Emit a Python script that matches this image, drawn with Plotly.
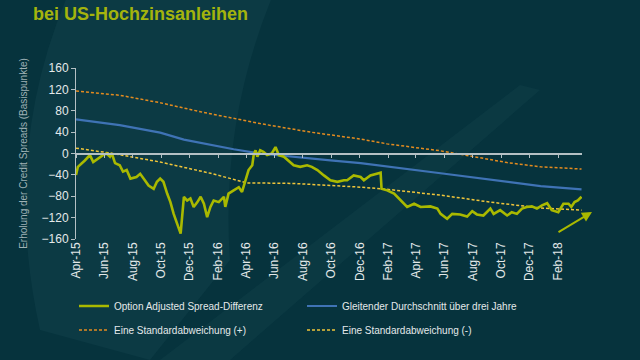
import plotly.graph_objects as go

# ---------------- data ----------------
oas_dates = [
    "2015-04-01", "2015-04-05", "2015-04-20", "2015-05-01", "2015-05-08", "2015-05-18", "2015-05-29",
    "2015-06-06", "2015-06-13", "2015-06-17", "2015-06-24", "2015-07-04", "2015-07-11", "2015-07-19",
    "2015-07-27", "2015-08-09", "2015-08-17", "2015-08-27", "2015-09-04", "2015-09-15", "2015-09-22",
    "2015-09-29", "2015-10-06", "2015-10-14", "2015-10-21", "2015-10-28", "2015-11-05", "2015-11-12",
    "2015-11-19", "2015-11-26", "2015-12-03", "2015-12-10", "2015-12-18", "2015-12-25", "2016-01-01",
    "2016-01-08", "2016-01-15", "2016-01-22", "2016-02-02", "2016-02-13", "2016-02-16", "2016-02-23",
    "2016-03-05", "2016-03-16", "2016-03-23", "2016-03-30", "2016-04-06", "2016-04-14", "2016-04-17",
    "2016-04-21", "2016-04-25", "2016-05-01", "2016-05-08", "2016-05-16", "2016-05-26", "2016-06-03",
    "2016-06-10", "2016-06-21", "2016-07-01", "2016-07-12", "2016-07-26", "2016-08-10", "2016-08-20",
    "2016-09-01", "2016-09-15", "2016-09-29", "2016-10-14", "2016-10-28", "2016-11-04", "2016-11-18",
    "2016-12-03", "2016-12-10", "2016-12-24", "2017-01-08", "2017-01-15", "2017-01-17", "2017-01-29",
    "2017-02-13", "2017-02-27", "2017-03-13", "2017-03-28", "2017-04-11", "2017-05-02", "2017-05-17",
    "2017-05-24", "2017-06-07", "2017-06-18", "2017-07-05", "2017-07-20", "2017-07-31", "2017-08-10",
    "2017-08-24", "2017-09-08", "2017-09-15", "2017-09-29", "2017-10-14", "2017-10-24", "2017-11-04",
    "2017-11-15", "2017-11-25", "2017-12-06", "2017-12-17", "2017-12-28", "2018-01-08", "2018-01-18",
    "2018-02-01", "2018-02-12", "2018-02-23", "2018-03-01", "2018-03-08", "2018-03-15", "2018-03-23",
]
oas_values = [
    -40, -25, -13, -3, -16, -9, -3,
    0, -6, 0, -18, -22, -34, -31,
    -47, -44, -38, -50, -60, -66, -53,
    -47, -53, -75, -91, -113, -131, -150,
    -81, -88, -84, -100, -91, -81, -94,
    -119, -100, -88, -91, -81, -100, -75,
    -69, -63, -72, -53, -31, -22, -3,
    6, -6, 6, 3, -3, 0, 12,
    -3, -6, -13, -22, -25, -22, -25,
    -31, -41, -50, -53, -50, -50, -41,
    -44, -50, -41, -38, -36, -66, -69,
    -75, -88, -100, -94, -100, -99, -103,
    -113, -122, -113, -114, -118, -108, -114,
    -116, -103, -113, -106, -116, -110, -113,
    -103, -100, -99, -103, -97, -93, -106,
    -110, -94, -94, -100, -91, -88, -81,
]

ma_dates = ["2015-04-01", "2015-07-04", "2015-09-29", "2015-11-19", "2016-03-05", "2016-05-01",
            "2016-09-29", "2016-12-03", "2017-05-24", "2017-12-25", "2018-03-23"]
ma_values = [64, 53, 39, 26, 8, 0, -13, -18, -37, -61, -67]

sd_plus_dates = ["2015-04-01", "2015-07-04", "2015-09-29", "2015-12-25", "2016-05-01", "2016-08-17",
                 "2016-12-03", "2017-01-29", "2017-05-24", "2017-08-02", "2017-10-14", "2017-12-25",
                 "2018-03-23"]
sd_plus_values = [117, 109, 95, 78, 56, 40, 27, 18, 5, -6, -17, -25, -29]

sd_minus_dates = ["2015-04-01", "2015-06-13", "2015-09-29", "2016-01-15", "2016-04-03", "2016-07-12",
                  "2016-12-03", "2017-01-29", "2017-05-24", "2017-09-08", "2017-12-25", "2018-03-23"]
sd_minus_values = [10, 1, -16, -37, -55, -56, -63, -67, -78, -91, -102, -106]

x_range = ["2015-04-01", "2018-03-24"]
y_ticks = [160, 120, 80, 40, 0, -40, -80, -120, -160]

names = ["Option Adjusted Spread-Differenz", "Gleitender Durchschnitt über drei Jahre",
         "Eine Standardabweichung (+)", "Eine Standardabweichung (-)"]

# ---------------- style ----------------
BG = "#06333d"
GREEN = "#a9b900"
BLUE = "#3f73b5"
ORANGE = "#e38b1f"
YELLOW = "#f0c53a"
AXIS = "#b4c0c4"
TXT = "#e4e9ea"
FONT = "Liberation Sans, Arial, sans-serif"

L, R, T, B = 76, 582, 68, 239
W, H = R - L, B - T


def px(X):
    return (X - L) / W


def py(Y):
    return (B - Y) / H


fig = go.Figure()
fig.add_trace(go.Scatter(x=sd_plus_dates, y=sd_plus_values, mode="lines", name=names[2],
                         line=dict(color=ORANGE, width=1.5, dash="3px,2px"), legend="legend2",
                         legendrank=1))
fig.add_trace(go.Scatter(x=sd_minus_dates, y=sd_minus_values, mode="lines", name=names[3],
                         line=dict(color=YELLOW, width=1.5, dash="3px,2px"), legend="legend2",
                         legendrank=2))
fig.add_trace(go.Scatter(x=ma_dates, y=ma_values, mode="lines", name=names[1],
                         line=dict(color=BLUE, width=2.2), legend="legend", legendrank=2))
fig.add_trace(go.Scatter(x=oas_dates, y=oas_values, mode="lines", name=names[0],
                         line=dict(color=GREEN, width=2.6), legend="legend", legendrank=1))
# carrier for zero-line axis
fig.add_trace(go.Scatter(x=x_range, y=[0, 0], mode="lines", xaxis="x2", showlegend=False,
                         line=dict(width=0, color="rgba(0,0,0,0)"), hoverinfo="skip"))

shapes = [
    # faint background decoration
    dict(type="path", xref="paper", yref="paper", layer="below", line=dict(width=0),
         fillcolor="rgba(120,170,180,0.06)",
         path=f"M {px(70)},{py(-10)} Q {px(150)},{py(-20)} {px(275)},{py(-10)} "
              f"Q {px(220)},{py(120)} {px(230)},{py(260)} L {px(150)},{py(360)} L {px(40)},{py(330)} "
              f"Q {px(0)},{py(150)} {px(70)},{py(-10)} Z"),
    dict(type="path", xref="paper", yref="paper", layer="below", line=dict(width=0),
         fillcolor="rgba(120,170,180,0.05)",
         path=f"M {px(160)},{py(360)} L {px(520)},{py(85)} L {px(540)},{py(90)} L {px(230)},{py(360)} Z"),
]

annotations = [
    dict(text="<b>bei US-Hochzinsanleihen</b>", xref="paper", yref="paper", x=px(31), y=py(14),
         xanchor="left", yanchor="middle", showarrow=False,
         font=dict(family=FONT, size=18, color="#a4b40d")),
    dict(text="", xref="x domain", yref="y domain", axref="x domain", ayref="y domain",
         x=px(592), y=py(212), ax=px(557), ay=py(233), showarrow=True,
         arrowhead=2, arrowsize=1, arrowwidth=2, arrowcolor=GREEN),
]

leg_common = dict(orientation="h", xanchor="left", yanchor="middle",
                  entrywidth=183, entrywidthmode="pixels", bgcolor="rgba(0,0,0,0)",
                  font=dict(family=FONT, size=10, color=TXT), itemwidth=30,
                  traceorder="normal")

fig.update_layout(
    width=640, height=360,
    margin=dict(l=L, r=640 - R, t=T, b=360 - B, autoexpand=False),
    paper_bgcolor=BG, plot_bgcolor="rgba(0,0,0,0)",
    font=dict(family=FONT, color=TXT, size=12),
    showlegend=True,
    shapes=shapes, annotations=annotations,
    xaxis=dict(type="date", range=x_range, tick0="2015-04-01", dtick="M2", tickformat="%b-%y",
               tickangle=-90, showgrid=False, zeroline=False, showline=False, ticks="",
               tickfont=dict(family=FONT, size=12, color=TXT)),
    xaxis2=dict(type="date", range=x_range, overlaying="x", anchor="free", position=0.5,
                tick0="2015-04-01", dtick="M2", showticklabels=False, showgrid=False,
                showline=True, linecolor=AXIS, linewidth=1.5, ticks="outside", ticklen=4,
                tickcolor=AXIS, tickwidth=1),
    yaxis=dict(range=[-160, 160], tickvals=y_ticks, showgrid=False, zeroline=False,
               showline=True, linecolor=AXIS, linewidth=1, ticks="outside", ticklen=4,
               tickcolor=AXIS, tickfont=dict(family=FONT, size=12, color=TXT),
               title=dict(text="Erholung der Credit Spreads (Basispunkte)", standoff=12,
                          font=dict(family=FONT, size=10, color="#9fb1b5"))),
    legend=dict(x=px(74), y=py(306), **leg_common),
    legend2=dict(x=px(74), y=py(330), **leg_common),
)

fig.write_html("out.html", config={"displayModeBar": False},
               post_script="document.body.style.margin='0';document.body.style.background='" + BG + "';")
